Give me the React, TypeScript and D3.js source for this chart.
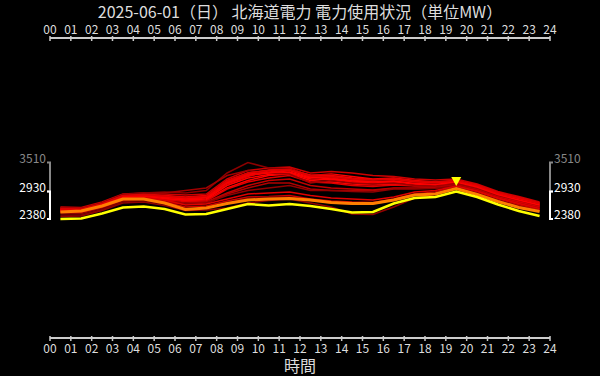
import React from "react";
import * as d3 from "d3";

const W = 600;
const H = 376;

const tickLabels = ["00","01","02","03","04","05","06","07","08","09","10","11","12","13","14","15","16","17","18","19","20","21","22","23","24"];

// today's actual (yellow), hourly values plotted at hour centers
const today = [2380,2390,2490,2610,2630,2580,2470,2480,2580,2680,2650,2680,2640,2580,2510,2520,2690,2800,2820,2930,2820,2670,2540,2440];
// comparison line (orange)
const compare = [2520,2540,2640,2780,2780,2700,2570,2600,2690,2760,2780,2790,2760,2710,2690,2690,2760,2860,2880,2990,2870,2730,2610,2530];

// historical days (red shades)
const hist: number[][] = [
  [2600,2590,2700,2860,2880,2850,2820,2850,3150,3300,3350,3380,3250,3280,3230,3180,3200,3150,3120,3150,3050,2900,2800,2700],
  [2580,2570,2680,2840,2860,2820,2800,2820,3100,3250,3300,3320,3200,3230,3180,3150,3170,3120,3100,3130,3030,2880,2780,2680],
  [2560,2560,2660,2820,2850,2830,2780,2800,3080,3230,3350,3400,3230,3200,3150,3130,3150,3100,3080,3110,3010,2860,2760,2660],
  [2550,2540,2650,2800,2830,2790,2760,2780,3050,3200,3270,3300,3180,3170,3120,3100,3120,3080,3060,3100,3000,2850,2750,2650],
  [2620,2610,2720,2880,2900,2880,2860,2880,3180,3350,3400,3420,3300,3330,3300,3250,3230,3180,3160,3180,3080,2930,2830,2720],
  [2540,2530,2640,2790,2810,2780,2750,2760,3000,3150,3250,3280,3150,3120,3080,3060,3080,3050,3050,3090,2990,2840,2730,2630],
  [2530,2520,2630,2780,2800,2760,2730,2740,2980,3120,3200,3250,3120,3100,3050,3030,3060,3040,3040,3080,2980,2830,2720,2620],
  [2600,2590,2700,2870,2900,2920,2900,2950,3300,3510,3400,3380,3250,3260,3200,3150,3150,3100,3080,3100,3020,2880,2780,2680],
  [2580,2570,2680,2850,2880,2900,2950,3000,3250,3350,3300,3280,3100,3150,3100,3080,3100,3050,3040,3080,2990,2850,2750,2650],
  [2560,2550,2660,2830,2850,2810,2790,2820,3120,3280,3300,3350,3220,3180,3140,3120,3140,3090,3070,3120,3020,2870,2760,2660],
  [2570,2560,2670,2840,2860,2830,2800,2830,3120,3260,3320,3360,3260,3250,3200,3170,3180,3130,3110,3140,3040,2890,2790,2690],
  [2590,2580,2690,2850,2870,2840,2810,2840,3140,3300,3360,3370,3240,3220,3180,3160,3190,3140,3120,3150,3060,2910,2810,2700],
  [2520,2510,2620,2760,2780,2740,2700,2720,2900,3050,3150,3180,3050,3000,2980,2960,3000,3000,3010,3060,2960,2810,2700,2600],
  [2510,2500,2610,2750,2770,2720,2680,2700,2880,3000,3100,3100,2980,2950,2950,2950,2990,2990,3000,3050,2950,2800,2690,2590],
  [2500,2490,2600,2740,2760,2730,2690,2700,2850,2950,3000,3050,2950,2950,2930,2920,2980,2980,2990,3040,2940,2790,2680,2580],
  [2530,2520,2620,2760,2780,2720,2620,2640,2740,2820,2830,2850,2780,2740,2720,2710,2780,2880,2920,3030,2920,2780,2660,2560],
  [2460,2460,2570,2730,2750,2680,2580,2600,2700,2800,2820,2820,2750,2700,2680,2680,2760,2860,2900,3010,2900,2760,2640,2540],
  [2430,2440,2550,2700,2720,2650,2550,2560,2600,2700,2750,2780,2700,2620,2480,2470,2620,2800,2880,2990,2890,2750,2630,2530],
  [2560,2550,2650,2790,2810,2760,2660,2680,2780,2880,2900,2920,2850,2800,2780,2760,2820,2920,2950,3040,2940,2800,2690,2590],
];
const histColors = [
  "#ff0000","#ff0000","#ee0000","#ff0000","#cc0000","#ff0000","#e00000","#8b0000","#a00000","#ff0000",
  "#f00000","#dd0000","#c00000","#b00000","#900000","#d00000","#800000","#900000","#e00000",
];

const histMax = 3510;
const todayMax = 2930;
const todayMin = 2380;
const peakMarker = 3040;
const peakHour = 19;

export default function App() {
  const x = d3.scaleLinear().domain([0, 24]).range([50, 550]);
  const y = d3.scaleLinear().domain([0, 6000]).range([338, 38]);
  const line = d3
    .line<number>()
    .x((_, i) => x(i + 0.5))
    .y((v) => y(v));

  const font = "'Noto Sans CJK JP', 'Noto Sans', sans-serif";

  const axis = (yy: number, labelY: number) => (
    <g>
      <line x1={x(0)} x2={x(24)} y1={yy} y2={yy} stroke="#ccc" strokeWidth={2} />
      {tickLabels.map((t, i) => (
        <g key={t}>
          <line x1={x(i)} x2={x(i)} y1={yy - 2} y2={yy + 3} stroke="#ccc" strokeWidth={1.5} />
          <text x={x(i)} y={labelY} textAnchor="middle" fontSize={12} fill="#ddd" fontFamily={font}>
            {t}
          </text>
        </g>
      ))}
    </g>
  );

  const bracket = (bx: number, dir: number, lo: number, hi: number, color: string) => (
    <path
      d={`M${bx + dir * 3},${y(hi)}H${bx}V${y(lo)}H${bx + dir * 3}`}
      fill="none"
      stroke={color}
      strokeWidth={2}
    />
  );

  const yLabels = [
    { v: histMax, c: "#888" },
    { v: todayMax, c: "#fff" },
    { v: todayMin, c: "#fff" },
  ];

  const tx = x(peakHour + 0.5);
  const ty = y(peakMarker);

  return (
    <svg width={W} height={H} style={{ position: "absolute", left: 0, top: 0, background: "#000" }}>
      <rect width={W} height={H} fill="#000" />
      <text x={300} y={18} textAnchor="middle" fontSize={16} fill="#ddd" fontFamily={font}>
        2025-06-01（日） 北海道電力 電力使用状況（単位MW）
      </text>
      {axis(38, 34)}
      {axis(338, 353)}
      <text x={300} y={372} textAnchor="middle" fontSize={16} fill="#ddd" fontFamily={font}>
        時間
      </text>

      {hist.map((d, i) => (
        <path key={i} d={line(d) || ""} fill="none" stroke={histColors[i]} strokeWidth={1.5} />
      ))}
      <path d={line(compare) || ""} fill="none" stroke="#ff7f00" strokeWidth={3} />
      <path d={line(today) || ""} fill="none" stroke="#ffff00" strokeWidth={2.5} />

      <path d={`M${tx - 5},${ty - 9}H${tx + 5}L${tx},${ty}Z`} fill="#ffff00" />

      {bracket(50, -1, todayMax, histMax, "#888")}
      {bracket(50, -1, todayMin, todayMax, "#fff")}
      {bracket(550, 1, todayMax, histMax, "#888")}
      {bracket(550, 1, todayMin, todayMax, "#fff")}
      {yLabels.map((l) => (
        <g key={l.v}>
          <text x={46} y={y(l.v)} textAnchor="end" fontSize={12} fill={l.c} fontFamily={font}>
            {l.v}
          </text>
          <text x={554} y={y(l.v)} textAnchor="start" fontSize={12} fill={l.c} fontFamily={font}>
            {l.v}
          </text>
        </g>
      ))}
    </svg>
  );
}
